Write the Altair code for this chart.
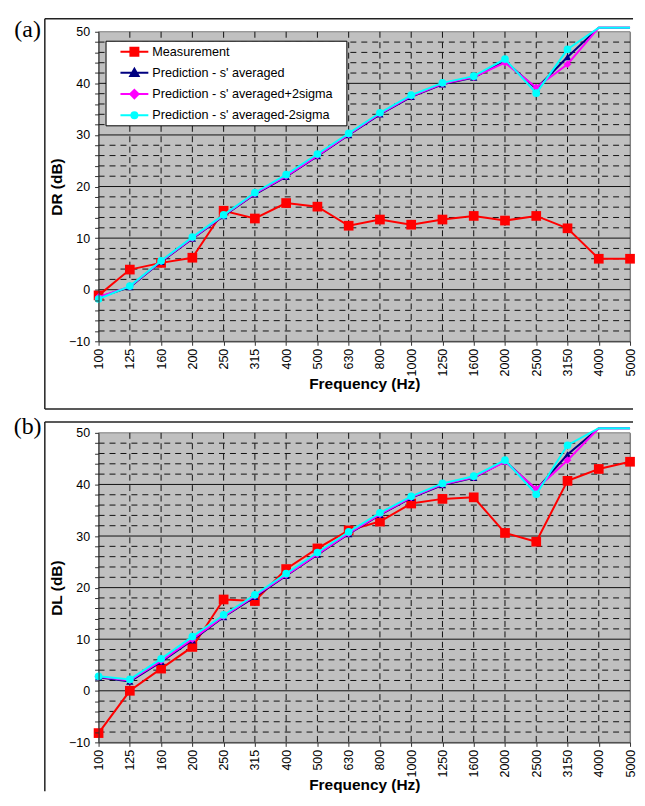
import altair as alt
import pandas as pd

freqs = ["100", "125", "160", "200", "250", "315", "400", "500", "630", "800",
         "1000", "1250", "1600", "2000", "2500", "3150", "4000", "5000"]
series_names = ["Measurement", "Prediction - s' averaged",
                "Prediction - s' averaged+2sigma", "Prediction - s' averaged-2sigma"]
series_colors = ["#FF0000", "#000080", "#FF00FF", "#00FFFF"]
series_shapes = ["square", "triangle-up", "diamond", "circle"]
series_sizes = [95, 55, 60, 60]

# Panel (a): DR
dr_meas = [-1.1, 3.9, 5.2, 6.2, 15.3, 13.8, 16.8, 16.1, 12.4, 13.6, 12.6, 13.6, 14.3, 13.4, 14.3, 11.9, 6.0, 6.0]
dr_avg = [-1.5, 0.5, 5.4, 9.9, 14.3, 18.5, 21.9, 25.9, 30.0, 34.0, 37.4, 39.8, 41.1, 44.3, 39.0, 45.1, 50.8, 50.8]
dr_plus = [-1.4, 0.6, 5.5, 10.0, 14.4, 18.6, 22.0, 26.0, 30.1, 34.1, 37.5, 39.9, 41.2, 44.0, 39.2, 43.7, 50.8, 50.8]
dr_minus = [-1.8, 0.7, 5.6, 10.2, 14.5, 18.8, 22.3, 26.3, 30.3, 34.3, 37.7, 40.1, 41.4, 44.7, 38.1, 46.6, 50.8, 50.8]

# Panel (b): DL
dl_meas = [-8.2, 0.0, 4.3, 8.5, 17.7, 17.4, 23.6, 27.6, 31.1, 32.8, 36.3, 37.2, 37.5, 30.6, 28.9, 40.7, 43.0, 44.4]
dl_avg = [2.6, 1.8, 5.6, 9.8, 14.3, 18.2, 22.3, 26.4, 30.4, 34.1, 37.4, 39.9, 41.3, 44.5, 39.0, 45.8, 50.9, 50.9]
dl_plus = [2.7, 2.0, 5.8, 10.0, 14.4, 18.4, 22.4, 26.5, 30.5, 34.2, 37.5, 40.0, 41.4, 44.4, 39.1, 44.7, 50.9, 50.9]
dl_minus = [2.8, 2.2, 6.2, 10.5, 14.7, 18.6, 22.7, 26.8, 30.8, 34.5, 37.7, 40.2, 41.6, 44.7, 38.1, 47.6, 50.9, 50.9]

y_tick_values = list(range(-10, 52, 2))
grid_major = [0, 10, 20, 30, 40]
grid_minor = [v for v in range(-8, 50, 2) if v % 10 != 0]
grid_x = freqs[1:-1]

W, H = 534, 311

markers = [
    "M-0.571,-0.571H0.571V0.571H-0.571Z",
    "M0,-0.6L0.6,0.45H-0.6Z",
    "M0,-0.6L0.6,0L0,0.6L-0.6,0Z",
    "M0.43,0A0.43,0.43,0,1,1,-0.43,0A0.43,0.43,0,1,1,0.43,0Z",
]


def legend_paths(kr, half):
    return [f"M{kr},0M{-half},0H{half}" + m for m in markers]


def panel(vals_list, ytitle, tag, tag_y, leg, frame_top, frame_bottom, draw_bottom, spacer):
    rows = []
    for name, vals in zip(series_names, vals_list):
        for i, (f, v) in enumerate(zip(freqs, vals)):
            rows.append({"freq": f, "value": v, "series": name, "idx": i})
    df = pd.DataFrame(rows)

    xs = alt.Scale(type="point", domain=freqs, padding=0)
    ys = alt.Scale(domain=[-10, 50], nice=False, zero=False)
    x_axis = alt.Axis(title="Frequency (Hz)", labelAngle=-90, tickSize=4, labelPadding=3,
                      titlePadding=1, labelOverlap=False, zindex=1)
    y_axis = alt.Axis(title=ytitle, values=y_tick_values,
                      labelExpr="datum.value % 10 === 0 ? datum.label : ''",
                      tickSize=4, labelPadding=5, titlePadding=4,
                      labelOverlap=False, labelFlush=False, zindex=1)
    X = lambda f: alt.X(f, scale=xs, sort=freqs, axis=x_axis)
    Y = lambda f: alt.Y(f, scale=ys, axis=y_axis)

    one = pd.DataFrame({"t": [tag]})
    layers = []
    # plot-area background
    layers.append(alt.Chart(one).mark_rect(fill="#C0C0C0", stroke="#808080", strokeWidth=1).encode(
        x=alt.value(0), x2=alt.value(W), y=alt.value(0), y2=alt.value(H)))
    # gridlines
    layers.append(alt.Chart(pd.DataFrame({"v": grid_minor})).mark_rule(
        color="#111", strokeWidth=1, strokeDash=[6, 5]).encode(y=Y("v:Q")))
    layers.append(alt.Chart(pd.DataFrame({"f": grid_x})).mark_rule(
        color="#111", strokeWidth=1, strokeDash=[6, 4.5]).encode(x=X("f:N")))
    layers.append(alt.Chart(pd.DataFrame({"v": grid_major})).mark_rule(
        color="#111", strokeWidth=1).encode(y=Y("v:Q")))

    for name, color, shape, size in zip(series_names, series_colors, series_shapes, series_sizes):
        base = alt.Chart(df).transform_filter(alt.datum.series == name)
        layers.append(base.mark_line(color=color, strokeWidth=2).encode(
            x=X("freq:N"), y=Y("value:Q"), order=alt.Order("idx:Q")))
        layers.append(base.transform_filter(alt.datum.value <= 50).mark_point(
            shape=shape, size=size, filled=True, color=color, opacity=1).encode(
            x=X("freq:N"), y=Y("value:Q")))

    L = alt.Legend(title=None, orient="none", legendX=leg["x"], legendY=leg["y"],
                   fillColor="white", strokeColor="black", cornerRadius=0,
                   padding=leg["pad"], rowPadding=leg["rowPad"],
                   labelFont="Liberation Sans", labelFontSize=12.7, labelColor="black",
                   labelLimit=0, labelOffset=leg["labelOffset"],
                   symbolSize=196, symbolStrokeWidth=2, symbolOffset=leg["symOffset"],
                   symbolOpacity=1)
    paths = legend_paths(leg["kr"], leg["half"])
    layers.append(alt.Chart(df).transform_filter("false").mark_point(
        filled=True, opacity=1, strokeWidth=2).encode(
        shape=alt.Shape("series:N", scale=alt.Scale(domain=series_names, range=paths), legend=L),
        fill=alt.Fill("series:N", scale=alt.Scale(domain=series_names, range=series_colors), legend=L),
        stroke=alt.Stroke("series:N", scale=alt.Scale(domain=series_names, range=series_colors), legend=L)))

    # chart-area frame and panel tag
    layers.append(alt.Chart(one).mark_rule(color="#222", strokeWidth=1.5).encode(
        x=alt.value(-54), y=alt.value(frame_top), y2=alt.value(frame_bottom)))
    layers.append(alt.Chart(one).mark_rule(color="#222", strokeWidth=1.5).encode(
        x=alt.value(-54), x2=alt.value(537), y=alt.value(frame_top)))
    if draw_bottom:
        layers.append(alt.Chart(one).mark_rule(color="#222", strokeWidth=1.5).encode(
            x=alt.value(-54), x2=alt.value(537), y=alt.value(frame_bottom)))
    layers.append(alt.Chart(one).mark_text(font="Liberation Serif", fontSize=24, align="center",
                                           baseline="middle", color="black").encode(
        x=alt.value(-71.3), y=alt.value(tag_y), text="t:N"))
    if spacer:
        layers.append(alt.Chart(one).mark_rect(opacity=0).encode(
            x=alt.value(-90), x2=alt.value(-89), y=alt.value(-21), y2=alt.value(-20)))

    return alt.layer(*layers).properties(width=W, height=H)


leg_a = {"x": 7, "y": 9, "pad": 3, "rowPad": 4.3, "labelOffset": 10, "symOffset": 18,
         "kr": 29.4, "half": 2.0}
leg_b = {"x": 4, "y": 2, "pad": 3, "rowPad": 6.1, "labelOffset": 8, "symOffset": 16,
         "kr": 28.7, "half": 2.143}

pa = panel([dr_meas, dr_avg, dr_plus, dr_minus], "DR (dB)", "(a)", -1.5, leg_a, -13, 379, True, True)
pb = panel([dl_meas, dl_avg, dl_plus, dl_minus], "DL (dB)", "(b)", -6, leg_b, -11, 360, False, False)

chart = alt.vconcat(pa, pb, spacing=92, bounds="flush").properties(padding=0).configure_view(
    fill="#C0C0C0", stroke="#808080", strokeWidth=1
).configure_axis(
    labelFont="Liberation Sans", titleFont="Liberation Sans", labelFontSize=12.5,
    titleFontSize=15.5, titleFontWeight="bold", labelColor="black", titleColor="black",
    domainColor="#333", tickColor="#333", grid=False
)

chart.save("out.html", embed_options={"renderer": "svg", "actions": False})
